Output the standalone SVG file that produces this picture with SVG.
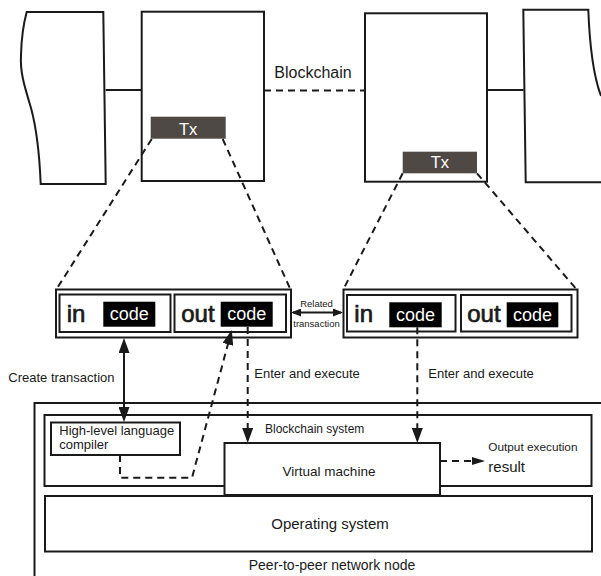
<svg xmlns="http://www.w3.org/2000/svg" width="601" height="576" viewBox="0 0 601 576">
<style>
.s{fill:#fff;stroke:#1a1a1a;stroke-width:2}
.n{fill:none;stroke:#1a1a1a;stroke-width:2}
.d{fill:none;stroke:#1a1a1a;stroke-width:2;stroke-dasharray:7 5}
.t{font-family:"Liberation Sans",Arial,sans-serif;fill:#1a1a1a}
.io{font-family:"Liberation Sans",Arial,sans-serif;fill:#1a1a1a;stroke:#1a1a1a;stroke-width:0.7;font-size:24px}
.w{font-family:"Liberation Sans",Arial,sans-serif;fill:#fff}
.tx{fill:#4e4945}
.cb{fill:#000}
</style>
<defs>
<marker id="big" viewBox="0 0 15 11" refX="12" refY="5.5" markerWidth="15" markerHeight="11" markerUnits="userSpaceOnUse" orient="auto-start-reverse"><path d="M0,0 L15,5.5 L0,11 Z" fill="#1a1a1a"/></marker>
<marker id="small" viewBox="0 0 10 8" refX="8" refY="4" markerWidth="10" markerHeight="8" markerUnits="userSpaceOnUse" orient="auto-start-reverse"><path d="M0,0 L10,4 L0,8 Z" fill="#1a1a1a"/></marker>
<marker id="mid" viewBox="0 0 13 8" refX="10" refY="4" markerWidth="13" markerHeight="8" markerUnits="userSpaceOnUse" orient="auto"><path d="M0,0 L13,4 L0,8 Z" fill="#1a1a1a"/></marker>
</defs>

<g id="block-left"><path class="s" d="M26.7,12 L103.3,12 L105.7,184 L40.7,184 C39.5,155 37,130 31,108 C24,85 20,72 21,55 C21.5,35 24,22 26.7,12 Z"/></g>
<g id="block-1">
<rect class="s" x="141.7" y="11.7" width="122.3" height="169.3"/>
<rect class="tx" x="150.7" y="116.7" width="75" height="22"/>
<text class="w" x="188.2" y="135" font-size="16.5" text-anchor="middle">Tx</text>
</g>
<g id="block-2">
<rect class="s" x="365" y="13.3" width="122" height="168.4"/>
<rect class="tx" x="402.7" y="151.7" width="74.3" height="21.6"/>
<text class="w" x="439.8" y="168.3" font-size="16.5" text-anchor="middle">Tx</text>
</g>
<g id="block-right"><path class="s" d="M601,96 C595,80 590,55 588.3,9.7 L523.3,9.7 L525.7,182.3 L601,182.3"/></g>
<g id="blockchain-label"><text class="t" x="274.3" y="78.3" font-size="16">Blockchain</text></g>

<g id="tx-detail-1">
<rect class="s" x="56" y="289.5" width="235" height="48"/>
<rect class="s" x="59.5" y="294.5" width="111" height="37.5"/>
<rect class="s" x="174.5" y="294.5" width="111.5" height="37.5"/>
<text class="io" x="66.7" y="321.5">in</text>
<rect class="cb" x="103.3" y="301.7" width="52" height="25"/>
<text class="w" x="129.3" y="320" font-size="18" text-anchor="middle">code</text>
<text class="io" x="181.2" y="321.5">out</text>
<rect class="cb" x="220.7" y="301.7" width="52" height="25"/>
<text class="w" x="246.7" y="320" font-size="18" text-anchor="middle">code</text>
</g>
<g id="tx-detail-2">
<rect class="s" x="343.5" y="289.5" width="234" height="48"/>
<rect class="s" x="347" y="295" width="108.5" height="36.5"/>
<rect class="s" x="461" y="295" width="110.5" height="36.5"/>
<text class="io" x="354.3" y="321.5">in</text>
<rect class="cb" x="389.3" y="302.3" width="52.4" height="25"/>
<text class="w" x="415.5" y="320.5" font-size="18" text-anchor="middle">code</text>
<text class="io" x="467.2" y="321.5">out</text>
<rect class="cb" x="506.7" y="302.3" width="51.6" height="25"/>
<text class="w" x="532.5" y="320.5" font-size="18" text-anchor="middle">code</text>
</g>

<g id="p2p-node">
<path class="n" d="M601,403 H34.5 V576"/>
<text class="t" x="332" y="570" font-size="14" text-anchor="middle">Peer-to-peer network node</text>
</g>
<g id="blockchain-system">
<rect class="s" x="44.5" y="415" width="547" height="71"/>
<text class="t" x="265" y="433" font-size="12">Blockchain system</text>
</g>
<g id="compiler">
<rect class="s" x="51" y="422.5" width="129" height="32.5"/>
<text class="t" x="59.3" y="435" font-size="13">High-level language</text>
<text class="t" x="59.3" y="449" font-size="13">compiler</text>
</g>
<g id="virtual-machine">
<rect class="s" x="224.5" y="443" width="215.5" height="52"/>
<text class="t" x="329" y="476" font-size="13.5" text-anchor="middle">Virtual machine</text>
</g>
<g id="operating-system">
<rect class="s" x="45" y="496" width="547" height="55.5"/>
<text class="t" x="330" y="529" font-size="15" text-anchor="middle">Operating system</text>
</g>
<g id="output-label">
<text class="t" x="488.3" y="451" font-size="11.8">Output execution</text>
<text class="t" x="488.3" y="472" font-size="15">result</text>
</g>

<g id="connectors">
<line class="n" x1="105.7" y1="90" x2="141.7" y2="90"/>
<line class="d" x1="264" y1="90.5" x2="365" y2="90.5"/>
<line class="n" x1="487" y1="90" x2="523.7" y2="90"/>
<line class="d" x1="151.7" y1="139" x2="56" y2="290"/>
<line class="d" x1="222.7" y1="139" x2="290.7" y2="290"/>
<line class="d" x1="402.7" y1="173.3" x2="343.3" y2="289.5"/>
<line class="d" x1="477" y1="173.3" x2="576.7" y2="289.5"/>
<line class="n" x1="124" y1="341" x2="124" y2="419" marker-start="url(#big)" marker-end="url(#big)"/>
<line class="n" x1="293" y1="312.5" x2="341" y2="312.5" marker-start="url(#small)" marker-end="url(#small)" stroke-width="1.5"/>
<text class="t" x="316.5" y="307" font-size="9.5" text-anchor="middle">Related</text>
<text class="t" x="316.5" y="327" font-size="9.5" text-anchor="middle">transaction</text>
<path class="d" d="M120,455 V477.7 H192 L231,332.8" marker-end="url(#big)"/>
<line class="d" x1="247.7" y1="327" x2="247.7" y2="440" marker-end="url(#big)"/>
<line class="d" x1="417.3" y1="327.3" x2="417.3" y2="440" marker-end="url(#big)"/>
<line class="d" x1="440" y1="461" x2="482" y2="461" marker-end="url(#mid)"/>
<text class="t" x="8.3" y="382" font-size="13">Create transaction</text>
<text class="t" x="254.3" y="378" font-size="13">Enter and execute</text>
<text class="t" x="428.3" y="378" font-size="13">Enter and execute</text>
</g>
</svg>
